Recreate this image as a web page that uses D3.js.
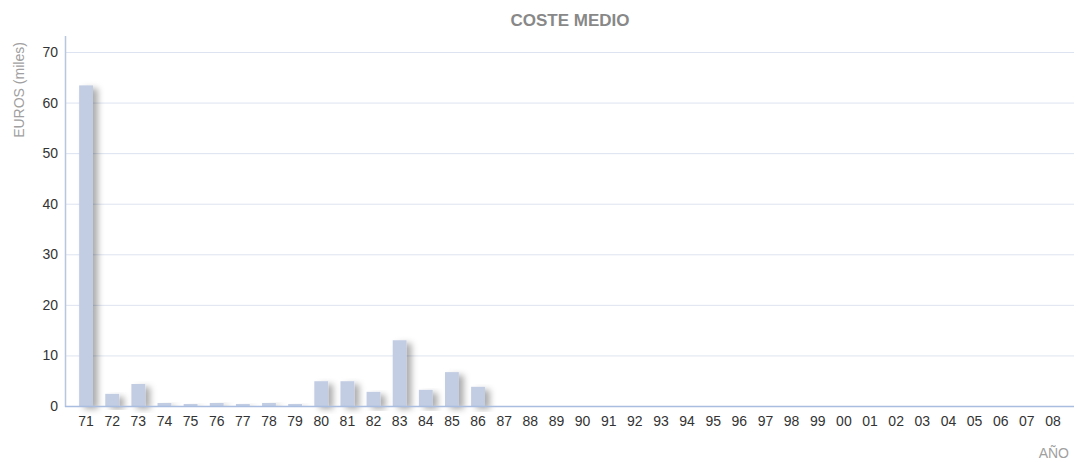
<!DOCTYPE html>
<html>
<head>
<meta charset="utf-8">
<script src="https://cdn.jsdelivr.net/npm/d3@7"></script>
<style>
  html, body { margin: 0; padding: 0; background: #fff; }
  svg { display: block; font-family: "Liberation Sans", Arial, sans-serif; }
</style>
</head>
<body>
<svg id="chart" width="1078" height="462"></svg>
<script>
// Average cost per year (thousands of euros)
const years = ["71","72","73","74","75","76","77","78","79","80","81","82","83","84","85","86",
               "87","88","89","90","91","92","93","94","95","96","97","98","99","00","01","02",
               "03","04","05","06","07","08"];
const costeMedio = [63.4, 2.4, 4.35, 0.6, 0.4, 0.6, 0.4, 0.6, 0.4, 4.9, 4.9, 2.8, 13.0, 3.2, 6.7, 3.8,
                    0, 0, 0, 0, 0, 0, 0, 0, 0, 0, 0, 0, 0, 0, 0, 0,
                    0, 0, 0, 0, 0, 0];
const yTicks = [0, 10, 20, 30, 40, 50, 60, 70];

const svg = d3.select("#chart");
const fontFam = "\"Liberation Sans\", Arial, sans-serif";

const axisLeftX = 65, axisRightX = 1074;
const x = d3.scaleBand().domain(years).range([73, 1066]).paddingInner(0.47).paddingOuter(0.235);
const y = d3.scaleLinear().domain([0, 70]).range([406, 52]);

// soft drop shadow behind the bars
const defs = svg.append("defs");
const f = defs.append("filter").attr("id", "shadow")
  .attr("x", "-50%").attr("y", "-10%").attr("width", "260%").attr("height", "140%");
f.append("feDropShadow").attr("dx", 5).attr("dy", 3).attr("stdDeviation", 3.2)
  .attr("flood-color", "#000").attr("flood-opacity", 0.32);

// gridlines
svg.append("g").selectAll("line").data(yTicks.filter(d => d > 0)).join("line")
  .attr("x1", axisLeftX).attr("x2", axisRightX)
  .attr("y1", d => y(d) + 0.5).attr("y2", d => y(d) + 0.5)
  .attr("stroke", "#dde3f0").attr("stroke-width", 1);

// bars
svg.append("g").selectAll("rect").data(years.map((yr, i) => ({ yr, v: costeMedio[i] })).filter(d => d.v > 0))
  .join("rect")
  .attr("x", d => x(d.yr))
  .attr("y", d => y(d.v))
  .attr("width", x.bandwidth())
  .attr("height", d => y(0) - y(d.v))
  .attr("fill", "#c2cde3")
  .attr("filter", "url(#shadow)");

// axis lines
svg.append("line").attr("x1", axisLeftX + 0.5).attr("x2", axisLeftX + 0.5)
  .attr("y1", 36).attr("y2", 407).attr("stroke", "#b8c6e0").attr("stroke-width", 1.5);
svg.append("line").attr("x1", axisLeftX).attr("x2", axisRightX)
  .attr("y1", 406.5).attr("y2", 406.5).attr("stroke", "#a9bde0").attr("stroke-width", 1.5);

// y tick labels
const yAxis = svg.append("g").attr("transform", `translate(${axisLeftX},0)`)
  .call(d3.axisLeft(y).tickValues(yTicks).tickSize(0).tickPadding(7));
yAxis.select(".domain").remove();
yAxis.selectAll("text").attr("font-size", 14).attr("fill", "#333")
  .attr("font-family", fontFam);

// x tick labels
const xAxis = svg.append("g").attr("transform", "translate(0,407)")
  .call(d3.axisBottom(x).tickSize(0).tickPadding(9));
xAxis.select(".domain").remove();
xAxis.selectAll("text").attr("font-size", 14).attr("fill", "#333")
  .attr("font-family", fontFam);

// titles
svg.append("text").attr("x", 570).attr("y", 26).attr("text-anchor", "middle")
  .attr("font-size", 17).attr("font-weight", "bold").attr("fill", "#888")
  .text("COSTE MEDIO");
svg.append("text").attr("transform", "translate(24,90) rotate(-90)")
  .attr("text-anchor", "middle").attr("font-size", 14).attr("fill", "#a0a0a0")
  .text("EUROS (miles)");
svg.append("text").attr("x", 1069).attr("y", 458).attr("text-anchor", "end")
  .attr("font-size", 14).attr("fill", "#a0a0a0").text("AÑO");
</script>
</body>
</html>
